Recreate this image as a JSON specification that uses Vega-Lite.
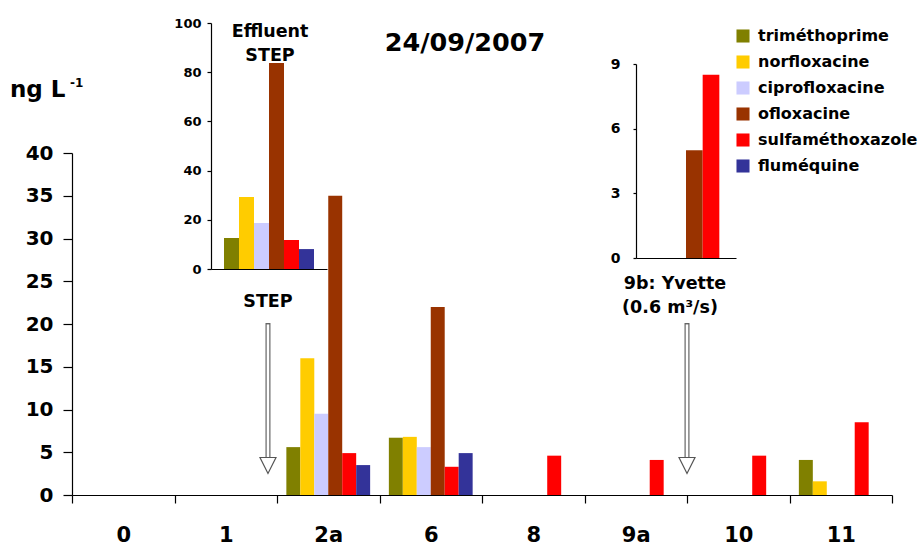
{
  "$schema": "https://vega.github.io/schema/vega-lite/v6.json",
  "width": 820,
  "height": 342,
  "autosize": {"type": "none"},
  "padding": {"left": 72, "top": 153, "right": 30, "bottom": 50},
  "background": "white",
  "config": {
    "view": {"stroke": null},
    "font": "DejaVu Sans",
    "axis": {"domainColor": "black", "tickColor": "black", "labelColor": "black", "labelFont": "DejaVu Sans", "labelFontWeight": "bold", "grid": false, "title": null, "domainWidth": 1.2, "tickWidth": 1.2}
  },
  "datasets": {
    "main": [
      {"site": "2a", "drug": "triméthoprime", "value": 5.6},
      {"site": "2a", "drug": "norfloxacine", "value": 16.0},
      {"site": "2a", "drug": "ciprofloxacine", "value": 9.5},
      {"site": "2a", "drug": "ofloxacine", "value": 35.0},
      {"site": "2a", "drug": "sulfaméthoxazole", "value": 4.9},
      {"site": "2a", "drug": "fluméquine", "value": 3.5},
      {"site": "6", "drug": "triméthoprime", "value": 6.7},
      {"site": "6", "drug": "norfloxacine", "value": 6.8},
      {"site": "6", "drug": "ciprofloxacine", "value": 5.6},
      {"site": "6", "drug": "ofloxacine", "value": 22.0},
      {"site": "6", "drug": "sulfaméthoxazole", "value": 3.3},
      {"site": "6", "drug": "fluméquine", "value": 4.9},
      {"site": "8", "drug": "sulfaméthoxazole", "value": 4.6},
      {"site": "9a", "drug": "sulfaméthoxazole", "value": 4.1},
      {"site": "10", "drug": "sulfaméthoxazole", "value": 4.6},
      {"site": "11", "drug": "triméthoprime", "value": 4.1},
      {"site": "11", "drug": "norfloxacine", "value": 1.6},
      {"site": "11", "drug": "sulfaméthoxazole", "value": 8.5}
    ],
    "eff": [
      {"drug": "triméthoprime", "value": 12.6},
      {"drug": "norfloxacine", "value": 29.3},
      {"drug": "ciprofloxacine", "value": 18.7},
      {"drug": "ofloxacine", "value": 83.7},
      {"drug": "sulfaméthoxazole", "value": 11.8},
      {"drug": "fluméquine", "value": 8.1}
    ],
    "yvette": [
      {"drug": "ofloxacine", "value": 5.0},
      {"drug": "sulfaméthoxazole", "value": 8.5}
    ],
    "anno": [{}]
  },
  "layer": [
    {
      "data": {"name": "main"},
      "mark": {"type": "bar"},
      "encoding": {
        "x": {"field": "site", "type": "nominal", "sort": null,
          "scale": {"domain": ["0", "1", "2a", "6", "8", "9a", "10", "11"], "paddingInner": 0, "paddingOuter": 0},
          "axis": {"orient": "bottom", "labelAngle": 0, "tickBand": "extent", "tickSize": 8, "labelPadding": 21, "labelFontSize": 21}},
        "xOffset": {"field": "drug", "type": "nominal",
          "scale": {"domain": ["triméthoprime", "norfloxacine", "ciprofloxacine", "ofloxacine", "sulfaméthoxazole", "fluméquine"], "paddingInner": 0, "paddingOuter": 0.67}},
        "y": {"field": "value", "type": "quantitative",
          "scale": {"domain": [0, 40], "nice": false},
          "axis": {"orient": "left", "values": [0, 5, 10, 15, 20, 25, 30, 35, 40], "tickSize": 9, "labelPadding": 10, "labelFontSize": 20}},
        "color": {"field": "drug", "type": "nominal",
          "scale": {"domain": ["triméthoprime", "norfloxacine", "ciprofloxacine", "ofloxacine", "sulfaméthoxazole", "fluméquine"],
                    "range": ["#808000", "#FFCC00", "#CCCCFF", "#993300", "#FF0000", "#333399"]},
          "legend": {"title": null, "orient": "none", "legendX": 663, "legendY": -125, "symbolType": "square", "symbolSize": 170, "symbolStrokeWidth": 0,
                     "labelFontSize": 16, "labelFont": "DejaVu Sans", "labelFontWeight": "bold", "labelColor": "black", "rowPadding": 10, "labelOffset": 7}}
      }
    },
    {
      "data": {"name": "eff"},
      "mark": {"type": "bar"},
      "encoding": {
        "x": {"field": "drug", "type": "nominal", "sort": null,
          "scale": {"domain": ["triméthoprime", "norfloxacine", "ciprofloxacine", "ofloxacine", "sulfaméthoxazole", "fluméquine"], "range": [139, 255], "paddingInner": 0, "paddingOuter": 0.867},
          "axis": {"orient": "bottom", "offset": -226, "labels": false, "ticks": false}},
        "y": {"field": "value", "type": "quantitative",
          "scale": {"domain": [0, 100], "range": [116, -130], "nice": false},
          "axis": {"orient": "left", "offset": -139, "values": [0, 20, 40, 60, 80, 100], "tickSize": 4, "labelPadding": 6, "labelFontSize": 13}},
        "color": {"field": "drug", "type": "nominal"}
      }
    },
    {
      "data": {"name": "yvette"},
      "mark": {"type": "bar"},
      "encoding": {
        "x": {"field": "drug", "type": "nominal", "sort": null,
          "scale": {"domain": ["triméthoprime", "norfloxacine", "ciprofloxacine", "ofloxacine", "sulfaméthoxazole", "fluméquine"], "range": [564, 664], "paddingInner": 0, "paddingOuter": 0},
          "axis": {"orient": "bottom", "offset": -237, "labels": false, "ticks": false}},
        "y": {"field": "value", "type": "quantitative",
          "scale": {"domain": [0, 9], "range": [105, -89], "nice": false},
          "axis": {"orient": "left", "offset": -564, "values": [0, 3, 6, 9], "tickSize": 3, "labelPadding": 13, "labelFontSize": 14}},
        "color": {"field": "drug", "type": "nominal"}
      }
    },
    {
      "data": {"name": "anno"},
      "layer": [
        {"mark": {"type": "text", "fontSize": 25.5, "fontWeight": "bold", "font": "DejaVu Sans", "color": "black"},
         "encoding": {"x": {"datum": 3.834, "type": "quantitative", "scale": {"domain": [0, 8], "nice": false, "zero": false}, "axis": null},
                      "y": {"datum": 52.87, "type": "quantitative", "scale": {"domain": [0, 40], "nice": false, "zero": false}, "axis": null},
                      "text": {"datum": "24/09/2007"}}},
        {"mark": {"type": "text", "fontSize": 17.5, "fontWeight": "bold", "font": "DejaVu Sans", "color": "black"},
         "encoding": {"x": {"datum": 1.932, "type": "quantitative", "scale": {"domain": [0, 8], "nice": false, "zero": false}, "axis": null},
                      "y": {"datum": 54.15, "type": "quantitative", "scale": {"domain": [0, 40], "nice": false, "zero": false}, "axis": null},
                      "text": {"datum": "Effluent"}}},
        {"mark": {"type": "text", "fontSize": 17.5, "fontWeight": "bold", "font": "DejaVu Sans", "color": "black"},
         "encoding": {"x": {"datum": 1.932, "type": "quantitative", "scale": {"domain": [0, 8], "nice": false, "zero": false}, "axis": null},
                      "y": {"datum": 51.35, "type": "quantitative", "scale": {"domain": [0, 40], "nice": false, "zero": false}, "axis": null},
                      "text": {"datum": "STEP"}}},
        {"mark": {"type": "text", "fontSize": 17.5, "fontWeight": "bold", "font": "DejaVu Sans", "color": "black"},
         "encoding": {"x": {"datum": 1.912, "type": "quantitative", "scale": {"domain": [0, 8], "nice": false, "zero": false}, "axis": null},
                      "y": {"datum": 22.57, "type": "quantitative", "scale": {"domain": [0, 40], "nice": false, "zero": false}, "axis": null},
                      "text": {"datum": "STEP"}}},
        {"mark": {"type": "text", "fontSize": 17.5, "fontWeight": "bold", "font": "DejaVu Sans", "color": "black"},
         "encoding": {"x": {"datum": 5.883, "type": "quantitative", "scale": {"domain": [0, 8], "nice": false, "zero": false}, "axis": null},
                      "y": {"datum": 24.68, "type": "quantitative", "scale": {"domain": [0, 40], "nice": false, "zero": false}, "axis": null},
                      "text": {"datum": "9b: Yvette"}}},
        {"mark": {"type": "text", "fontSize": 17.5, "fontWeight": "bold", "font": "DejaVu Sans", "color": "black"},
         "encoding": {"x": {"datum": 5.834, "type": "quantitative", "scale": {"domain": [0, 8], "nice": false, "zero": false}, "axis": null},
                      "y": {"datum": 21.87, "type": "quantitative", "scale": {"domain": [0, 40], "nice": false, "zero": false}, "axis": null},
                      "text": {"datum": "(0.6 m³/s)"}}},
        {"mark": {"type": "text", "fontSize": 23, "fontWeight": "bold", "font": "DejaVu Sans", "color": "black", "align": "left", "baseline": "alphabetic"},
         "encoding": {"x": {"datum": -0.605, "type": "quantitative", "scale": {"domain": [0, 8], "nice": false, "zero": false}, "axis": null},
                      "y": {"datum": 46.55, "type": "quantitative", "scale": {"domain": [0, 40], "nice": false, "zero": false}, "axis": null},
                      "text": {"datum": "ng L"}}},
        {"mark": {"type": "text", "fontSize": 12, "fontWeight": "bold", "font": "DejaVu Sans", "color": "black"},
         "encoding": {"x": {"datum": 0.045, "type": "quantitative", "scale": {"domain": [0, 8], "nice": false, "zero": false}, "axis": null},
                      "y": {"datum": 48.2, "type": "quantitative", "scale": {"domain": [0, 40], "nice": false, "zero": false}, "axis": null},
                      "text": {"datum": "-1"}}},
        {"mark": {"type": "rule", "color": "#666666", "strokeWidth": 5},
         "encoding": {"x": {"datum": 1.912, "type": "quantitative", "scale": {"domain": [0, 8], "nice": false, "zero": false}, "axis": null},
                      "y": {"datum": 20.12, "type": "quantitative", "scale": {"domain": [0, 40], "nice": false, "zero": false}, "axis": null},
                      "y2": {"datum": 4.44}}},
        {"mark": {"type": "rule", "color": "white", "strokeWidth": 2.6},
         "encoding": {"x": {"datum": 1.912, "type": "quantitative", "scale": {"domain": [0, 8], "nice": false, "zero": false}, "axis": null},
                      "y": {"datum": 19.95, "type": "quantitative", "scale": {"domain": [0, 40], "nice": false, "zero": false}, "axis": null},
                      "y2": {"datum": 4.44}}},
        {"mark": {"type": "point", "shape": "M-1,-1L1,-1L0,1Z", "size": 256, "filled": true, "fill": "white", "stroke": "#555555", "strokeWidth": 1.2, "opacity": 1},
         "encoding": {"x": {"datum": 1.912, "type": "quantitative", "scale": {"domain": [0, 8], "nice": false, "zero": false}, "axis": null},
                      "y": {"datum": 3.45, "type": "quantitative", "scale": {"domain": [0, 40], "nice": false, "zero": false}, "axis": null}}},
        {"mark": {"type": "rule", "color": "#666666", "strokeWidth": 5},
         "encoding": {"x": {"datum": 6.0, "type": "quantitative", "scale": {"domain": [0, 8], "nice": false, "zero": false}, "axis": null},
                      "y": {"datum": 20.12, "type": "quantitative", "scale": {"domain": [0, 40], "nice": false, "zero": false}, "axis": null},
                      "y2": {"datum": 4.44}}},
        {"mark": {"type": "rule", "color": "white", "strokeWidth": 2.6},
         "encoding": {"x": {"datum": 6.0, "type": "quantitative", "scale": {"domain": [0, 8], "nice": false, "zero": false}, "axis": null},
                      "y": {"datum": 19.95, "type": "quantitative", "scale": {"domain": [0, 40], "nice": false, "zero": false}, "axis": null},
                      "y2": {"datum": 4.44}}},
        {"mark": {"type": "point", "shape": "M-1,-1L1,-1L0,1Z", "size": 256, "filled": true, "fill": "white", "stroke": "#555555", "strokeWidth": 1.2, "opacity": 1},
         "encoding": {"x": {"datum": 6.0, "type": "quantitative", "scale": {"domain": [0, 8], "nice": false, "zero": false}, "axis": null},
                      "y": {"datum": 3.45, "type": "quantitative", "scale": {"domain": [0, 40], "nice": false, "zero": false}, "axis": null}}}
      ]
    }
  ],
  "resolve": {
    "scale": {"x": "independent", "y": "independent", "xOffset": "independent"},
    "axis": {"x": "independent", "y": "independent"}
  }
}
